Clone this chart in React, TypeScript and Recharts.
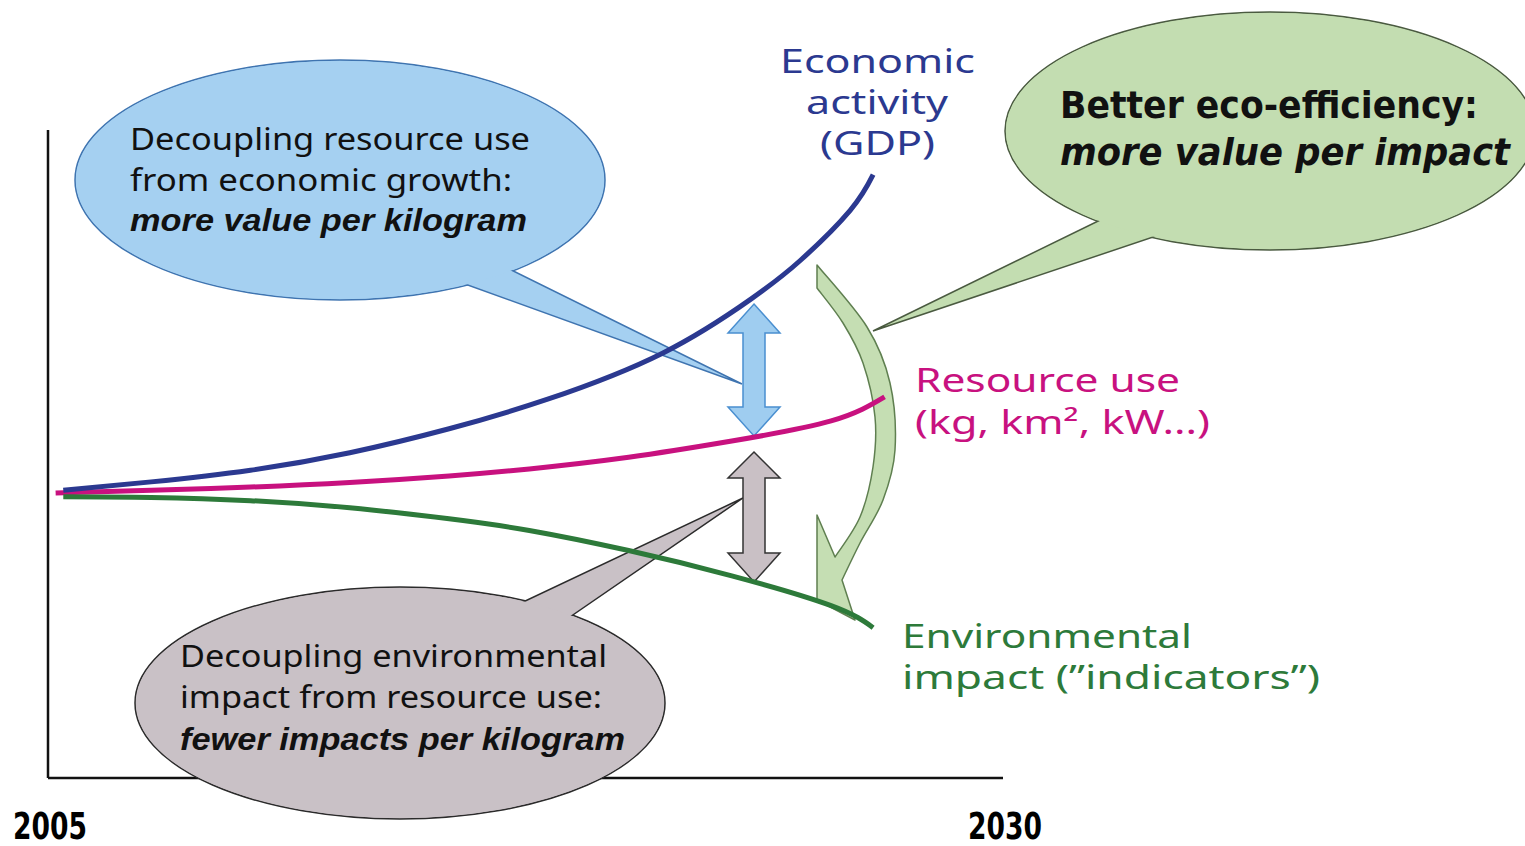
import React from "react";
import { LineChart, Line, XAxis, YAxis } from "recharts";

const W = 1525;
const H = 846;
const MARGIN = { top: 130, right: 522, bottom: 67, left: 47 };

const SANS = "'Noto Sans', 'Liberation Sans', Arial, sans-serif";
const HELV = "'Liberation Sans', Arial, sans-serif";
const NARROW = "'Liberation Sans Narrow', 'DejaVu Sans Condensed', 'Liberation Sans', sans-serif";

const BLUE = "#2b3990";
const PINK = "#c8117f";
const GREEN = "#2d7a3a";

// x axis: years, y axis: index (0-100, arbitrary units)
const yearTicks = [2005, 2030];

const gdpYears = [2005.4, 2007.7, 2010.3, 2012.9, 2015.5, 2018.1, 2021.1, 2023.4, 2024.7, 2026.0, 2026.6];
const gdpValues = [44.4, 45.7, 47.5, 50.2, 53.9, 58.5, 65.6, 73.9, 79.9, 87.6, 93.1];

const resourceYears = [2005.2, 2007.7, 2010.3, 2012.9, 2015.5, 2017.6, 2020.2, 2022.9, 2025.5, 2026.9];
const resourceValues = [44.0, 44.4, 44.9, 45.6, 46.6, 47.7, 49.5, 52.0, 55.1, 58.8];

const impactYears = [2005.4, 2007.7, 2010.3, 2012.9, 2015.5, 2017.6, 2020.2, 2022.9, 2025.5, 2026.6];
const impactValues = [43.4, 43.3, 42.8, 41.7, 40.0, 38.2, 35.1, 31.2, 26.6, 23.2];

const toPoints = (years: number[], values: number[]) =>
  years.map((year, i) => ({ year, value: values[i] }));

const gdp = toPoints(gdpYears, gdpValues);
const resource = toPoints(resourceYears, resourceValues);
const impact = toPoints(impactYears, impactValues);

// catmull-rom through the points, as cubic segments (path must already be at pts[0])
function smooth(pts: number[][]): string {
  let d = "";
  for (let i = 0; i < pts.length - 1; i++) {
    const p0 = pts[i - 1] || pts[i];
    const p1 = pts[i];
    const p2 = pts[i + 1];
    const p3 = pts[i + 2] || p2;
    const c1x = p1[0] + (p2[0] - p0[0]) / 6;
    const c1y = p1[1] + (p2[1] - p0[1]) / 6;
    const c2x = p2[0] - (p3[0] - p1[0]) / 6;
    const c2y = p2[1] - (p3[1] - p1[1]) / 6;
    d += ` C ${c1x} ${c1y} ${c2x} ${c2y} ${p2[0]} ${p2[1]}`;
  }
  return d;
}

const arrowOuter = [[817, 265], [867, 327], [890, 383], [895, 450], [883, 500], [860, 543], [842, 580]];
const arrowInner = [[835, 557], [860, 517], [873, 467], [875, 417], [863, 363], [843, 323], [817, 288]];
const curvedArrow =
  "M 817 265" + smooth(arrowOuter) + " L 855 620 L 817 600 L 817 515 L 835 557" + smooth(arrowInner) + " Z";

type TProps = {
  x: number;
  y: number;
  w: number;
  size: number;
  color?: string;
  bold?: boolean;
  italic?: boolean;
  family?: string;
  children: React.ReactNode;
};

function T({ x, y, w, size, color = "#111", bold, italic, family = SANS, children }: TProps) {
  return (
    <text
      x={x}
      y={y}
      fontSize={size}
      fill={color}
      fontFamily={family}
      fontWeight={bold ? 700 : 400}
      fontStyle={italic ? "italic" : "normal"}
      textLength={w}
      lengthAdjust="spacingAndGlyphs"
    >
      {children}
    </text>
  );
}

// condensed bold year labels under the x axis
function YearTick(props: any) {
  const { x, y, payload } = props;
  return (
    <text
      x={x + 2}
      y={y}
      dy={27}
      textAnchor="middle"
      fontSize={38}
      fontWeight={700}
      fontFamily={NARROW}
      fill="#000"
      textLength={74}
      lengthAdjust="spacingAndGlyphs"
    >
      {payload.value}
    </text>
  );
}

function Annotations() {
  return (
    <svg width={W} height={H} style={{ position: "absolute", left: 0, top: 0 }}>
      {/* blue bubble */}
      <ellipse cx={340} cy={180} rx={265} ry={120} fill="#a5d0f1" stroke="#3f74b0" strokeWidth={1.5} />
      <polygon points="440,275 742,384 483,256" fill="#a5d0f1" stroke="#3f74b0" strokeWidth={1.5} />
      <ellipse cx={340} cy={180} rx={264} ry={119} fill="#a5d0f1" />

      {/* green bubble */}
      <ellipse cx={1270} cy={131} rx={265} ry={119} fill="#c3ddb1" stroke="#4a5a40" strokeWidth={1.5} />
      <polygon points="1131,205 873,331 1186,226" fill="#c3ddb1" stroke="#4a5a40" strokeWidth={1.5} />
      <ellipse cx={1270} cy={131} rx={264} ry={118} fill="#c3ddb1" />

      {/* grey bubble */}
      <ellipse cx={400} cy={703} rx={265} ry={116} fill="#c9c1c6" stroke="#2b2b2b" strokeWidth={1.5} />
      <polygon points="502,612 743,498 551,630" fill="#c9c1c6" stroke="#2b2b2b" strokeWidth={1.5} />
      <ellipse cx={400} cy={703} rx={264} ry={115} fill="#c9c1c6" />

      {/* double arrows */}
      <polygon
        points="754,304 780,333 765,333 765,407 780,407 754,436 728,407 743,407 743,333 728,333"
        fill="#9fcdf0"
        stroke="#4a8fd0"
        strokeWidth={1.5}
      />
      <polygon
        points="754,452 780,478 765,478 765,553 780,553 754,582 728,553 743,553 743,478 728,478"
        fill="#c9c0c5"
        stroke="#333"
        strokeWidth={1.5}
      />

      {/* curved green arrow */}
      <path d={curvedArrow} fill="#c5deb3" stroke="#5f7f50" strokeWidth={1.5} strokeLinejoin="round" />

      {/* bubble texts */}
      <T x={130} y={150} w={400} size={31}>Decoupling resource use</T>
      <T x={130} y={191} w={382} size={31}>from economic growth:</T>
      <T x={130} y={231} w={397} size={31} bold italic family={HELV}>more value per kilogram</T>

      <T x={180} y={667} w={427} size={31}>Decoupling environmental</T>
      <T x={180} y={708} w={422} size={31}>impact from resource use:</T>
      <T x={180} y={750} w={445} size={31} bold italic family={HELV}>fewer impacts per kilogram</T>

      <T x={1060} y={118} w={418} size={38} bold family={NARROW}>Better eco-efficiency:</T>
      <T x={1060} y={165} w={450} size={38} bold italic family={NARROW}>more value per impact</T>

      {/* series labels */}
      <T x={780} y={73} w={195} size={33} color={BLUE}>Economic</T>
      <T x={806} y={114} w={142} size={33} color={BLUE}>activity</T>
      <T x={820} y={155} w={115} size={33} color={BLUE}>(GDP)</T>

      <T x={915} y={392} w={265} size={32} color={PINK}>Resource use</T>
      <T x={915} y={434} w={295} size={32} color={PINK}>(kg, km², kW...)</T>

      <T x={902} y={648} w={290} size={33} color={GREEN}>Environmental</T>
      <T x={902} y={689} w={418} size={33} color={GREEN}>impact (”indicators”)</T>
    </svg>
  );
}

export default function App() {
  return (
    <div style={{ position: "absolute", left: 0, top: 0, width: W, height: H, background: "#fff", overflow: "hidden" }}>
      {/* bottom layer: axes (the grey bubble covers the x axis) */}
      <div style={{ position: "absolute", left: 0, top: 0 }}>
        <LineChart width={W} height={H} margin={MARGIN} data={gdp}>
          <XAxis
            type="number"
            dataKey="year"
            domain={[2005, 2030]}
            ticks={yearTicks}
            interval={0}
            height={1}
            tickLine={false}
            tickSize={0}
            tickMargin={34}
            axisLine={{ stroke: "#111", strokeWidth: 2.5 }}
            tick={<YearTick />}
          />
          <YAxis
            type="number"
            domain={[0, 100]}
            width={1}
            tick={false}
            tickLine={false}
            axisLine={{ stroke: "#111", strokeWidth: 2.5 }}
          />
        </LineChart>
      </div>
      <Annotations />
      {/* top layer: the three curves */}
      <div style={{ position: "absolute", left: 0, top: 0 }}>
        <LineChart width={W} height={H} margin={MARGIN}>
          <XAxis type="number" dataKey="year" domain={[2005, 2030]} height={1} axisLine={false} tick={false} tickLine={false} />
          <YAxis type="number" domain={[0, 100]} width={1} axisLine={false} tick={false} tickLine={false} />
          <Line data={resource} dataKey="value" type="natural" stroke={PINK} strokeWidth={5} dot={false} isAnimationActive={false} />
          <Line data={impact} dataKey="value" type="natural" stroke={GREEN} strokeWidth={5} dot={false} isAnimationActive={false} />
          <Line data={gdp} dataKey="value" type="natural" stroke={BLUE} strokeWidth={5} dot={false} isAnimationActive={false} />
        </LineChart>
      </div>
    </div>
  );
}
